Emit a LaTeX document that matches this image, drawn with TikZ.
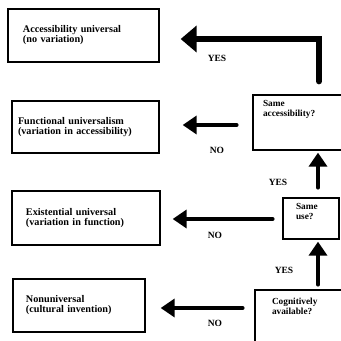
\documentclass[tikz,border=0pt]{standalone}
\usepackage{fontspec}
\setmainfont{Liberation Serif}
\usetikzlibrary{arrows.meta,calc}
\begin{document}
\begin{tikzpicture}[x=1pt,y=-1pt,
  txt/.style={font=\fontsize{10.2}{10}\selectfont\bfseries},
  qtxt/.style={font=\fontsize{9.3}{10}\selectfont\bfseries},
  outcome/.style={draw, line width=1.3pt, txt, align=left, inner ysep=0pt},
  question/.style={draw, line width=1.3pt, qtxt, align=left, inner ysep=0pt, inner xsep=0pt},
  flow/.style={line width=4.5pt, line cap=round, -{Triangle[length=14pt,width=18pt]}},
  bigflow/.style={line width=6pt, line cap=round, line join=miter, -{Triangle[length=16pt,width=26pt]}},
  answer/.style={font=\fontsize{9.5}{10}\selectfont\bfseries}
]
\useasboundingbox (0,0) rectangle (341,341);
\begin{scope}
\clip (0,0) rectangle (341,341);

% outcome boxes on the left
\node[outcome, minimum width=151pt, minimum height=53pt, text width=121pt, inner xsep=15pt] (box1) at (83.5,35.5)
  {Accessibility universal\\(no variation)};
\node[outcome, minimum width=147pt, minimum height=52pt, text width=135pt, inner xsep=6pt] (box2) at (85.5,127)
  {Functional universalism\\(variation in accessibility)};
\node[outcome, minimum width=148pt, minimum height=54pt, text width=120pt, inner xsep=14pt] (box3) at (86,218)
  {Existential universal\\(variation in function)};
\node[outcome, minimum width=132pt, minimum height=53pt, text width=106pt, inner xsep=13pt] (box4) at (79,305.5)
  {Nonuniversal\\(cultural invention)};

% question boxes on the right
\node[question, minimum width=99pt, minimum height=55pt] (q1) at (302.5,122.5)
  {\parbox[c][45pt][t]{79pt}{Same\\accessibility?}};
\node[question, minimum width=56pt, minimum height=41pt] (q2) at (311,218.5)
  {\parbox[c][31pt][t]{30pt}{Same\\use?}};
\node[question, minimum width=100pt, minimum height=60pt] (q3) at (305,320)
  {\parbox[c][44pt][t]{66pt}{Cognitively\\available?}};

% YES branches
\draw[bigflow] ([shift={(16.5,-13)}]q1.north) |- ([shift={(21,3.5)}]box1.east);
\draw[flow, shorten <=10pt, shorten >=2pt] (q2.north -| 318,0) -- (q1.south -| 318,0);
\draw[flow, shorten <=5pt, shorten >=2pt] (q3.north -| 318,0) -- (q2.south -| 318,0);

% NO branches
\draw[flow, shorten <=16pt, shorten >=23pt] (q1.west |- 0,125) -- (box2.east |- 0,125);
\draw[flow, shorten <=10pt, shorten >=12pt] (q2.west |- 0,219) -- (box3.east |- 0,219);
\draw[flow, shorten <=12pt, shorten >=15pt] (q3.west |- 0,308) -- (box4.east |- 0,308);

% answer labels
\node[answer] (y1) at (217,58) {YES};
\node[answer] (n1) at (217,150) {NO};
\node[answer] (y2) at (278,182) {YES};
\node[answer] (n2) at (215,235) {NO};
\node[answer] (y3) at (284,270) {YES};
\node[answer] (n3) at (215,323) {NO};
\end{scope}
\end{tikzpicture}
\end{document}
